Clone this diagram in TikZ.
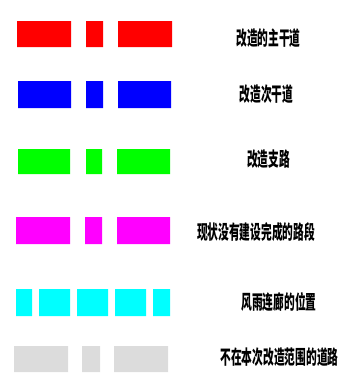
\documentclass[tikz,border=0pt]{standalone}
\usepackage{fontspec}
\newfontfamily\cjk{Noto Sans CJK SC Black}
\definecolor{cred}{RGB}{255,0,0}
\definecolor{cblue}{RGB}{0,0,255}
\definecolor{cgreen}{RGB}{0,255,0}
\definecolor{cmag}{RGB}{255,0,255}
\definecolor{ccyan}{RGB}{0,255,255}
\definecolor{cgray}{RGB}{220,220,220}
\tikzset{
  lbl/.style={inner sep=0pt, font=\cjk\fontsize{19.5}{19.5}\selectfont, text=black},
}
\newcommand{\sq}[1]{\scalebox{0.55}[1]{#1}}
\begin{document}
\begin{tikzpicture}[x=1pt,y=-1pt]
\useasboundingbox (0,0) rectangle (350,383);
% row 1 red
\fill[cred] (17,21) rectangle (71,47) (86,21) rectangle (103,47) (118,21) rectangle (172,47);
\node[lbl] (t1) at (268.5,38) {\sq{改造的主干道}};
% row 2 blue
\fill[cblue] (18,81) rectangle (71,108) (86,81) rectangle (103,108) (118,81) rectangle (171,108);
\node[lbl] (t2) at (266.5,94) {\sq{改造次干道}};
% row 3 green
\fill[cgreen] (18,149) rectangle (70,174) (86,149) rectangle (102,174) (117,149) rectangle (170,174);
\node[lbl] (t3) at (268.5,159) {\sq{改造支路}};
% row 4 magenta
\fill[cmag] (16,217) rectangle (70,244) (85,217) rectangle (102,244) (117,217) rectangle (170,244);
\node[lbl] (t4) at (256,232) {\sq{现状没有建设完成的路段}};
% row 5 cyan
\fill[ccyan] (16,289) rectangle (32,316) (39,289) rectangle (70,316) (77,289) rectangle (108,316) (115,289) rectangle (146,316) (153,289) rectangle (170,316);
\node[lbl] (t5) at (279,302) {\sq{风雨连廊的位置}};
% row 6 gray
\fill[cgray] (14,346) rectangle (68,372) (82,346) rectangle (100,372) (114,346) rectangle (168,372);
\node[lbl] (t6) at (279.5,357) {\sq{不在本次改造范围的道路}};
\end{tikzpicture}
\end{document}
